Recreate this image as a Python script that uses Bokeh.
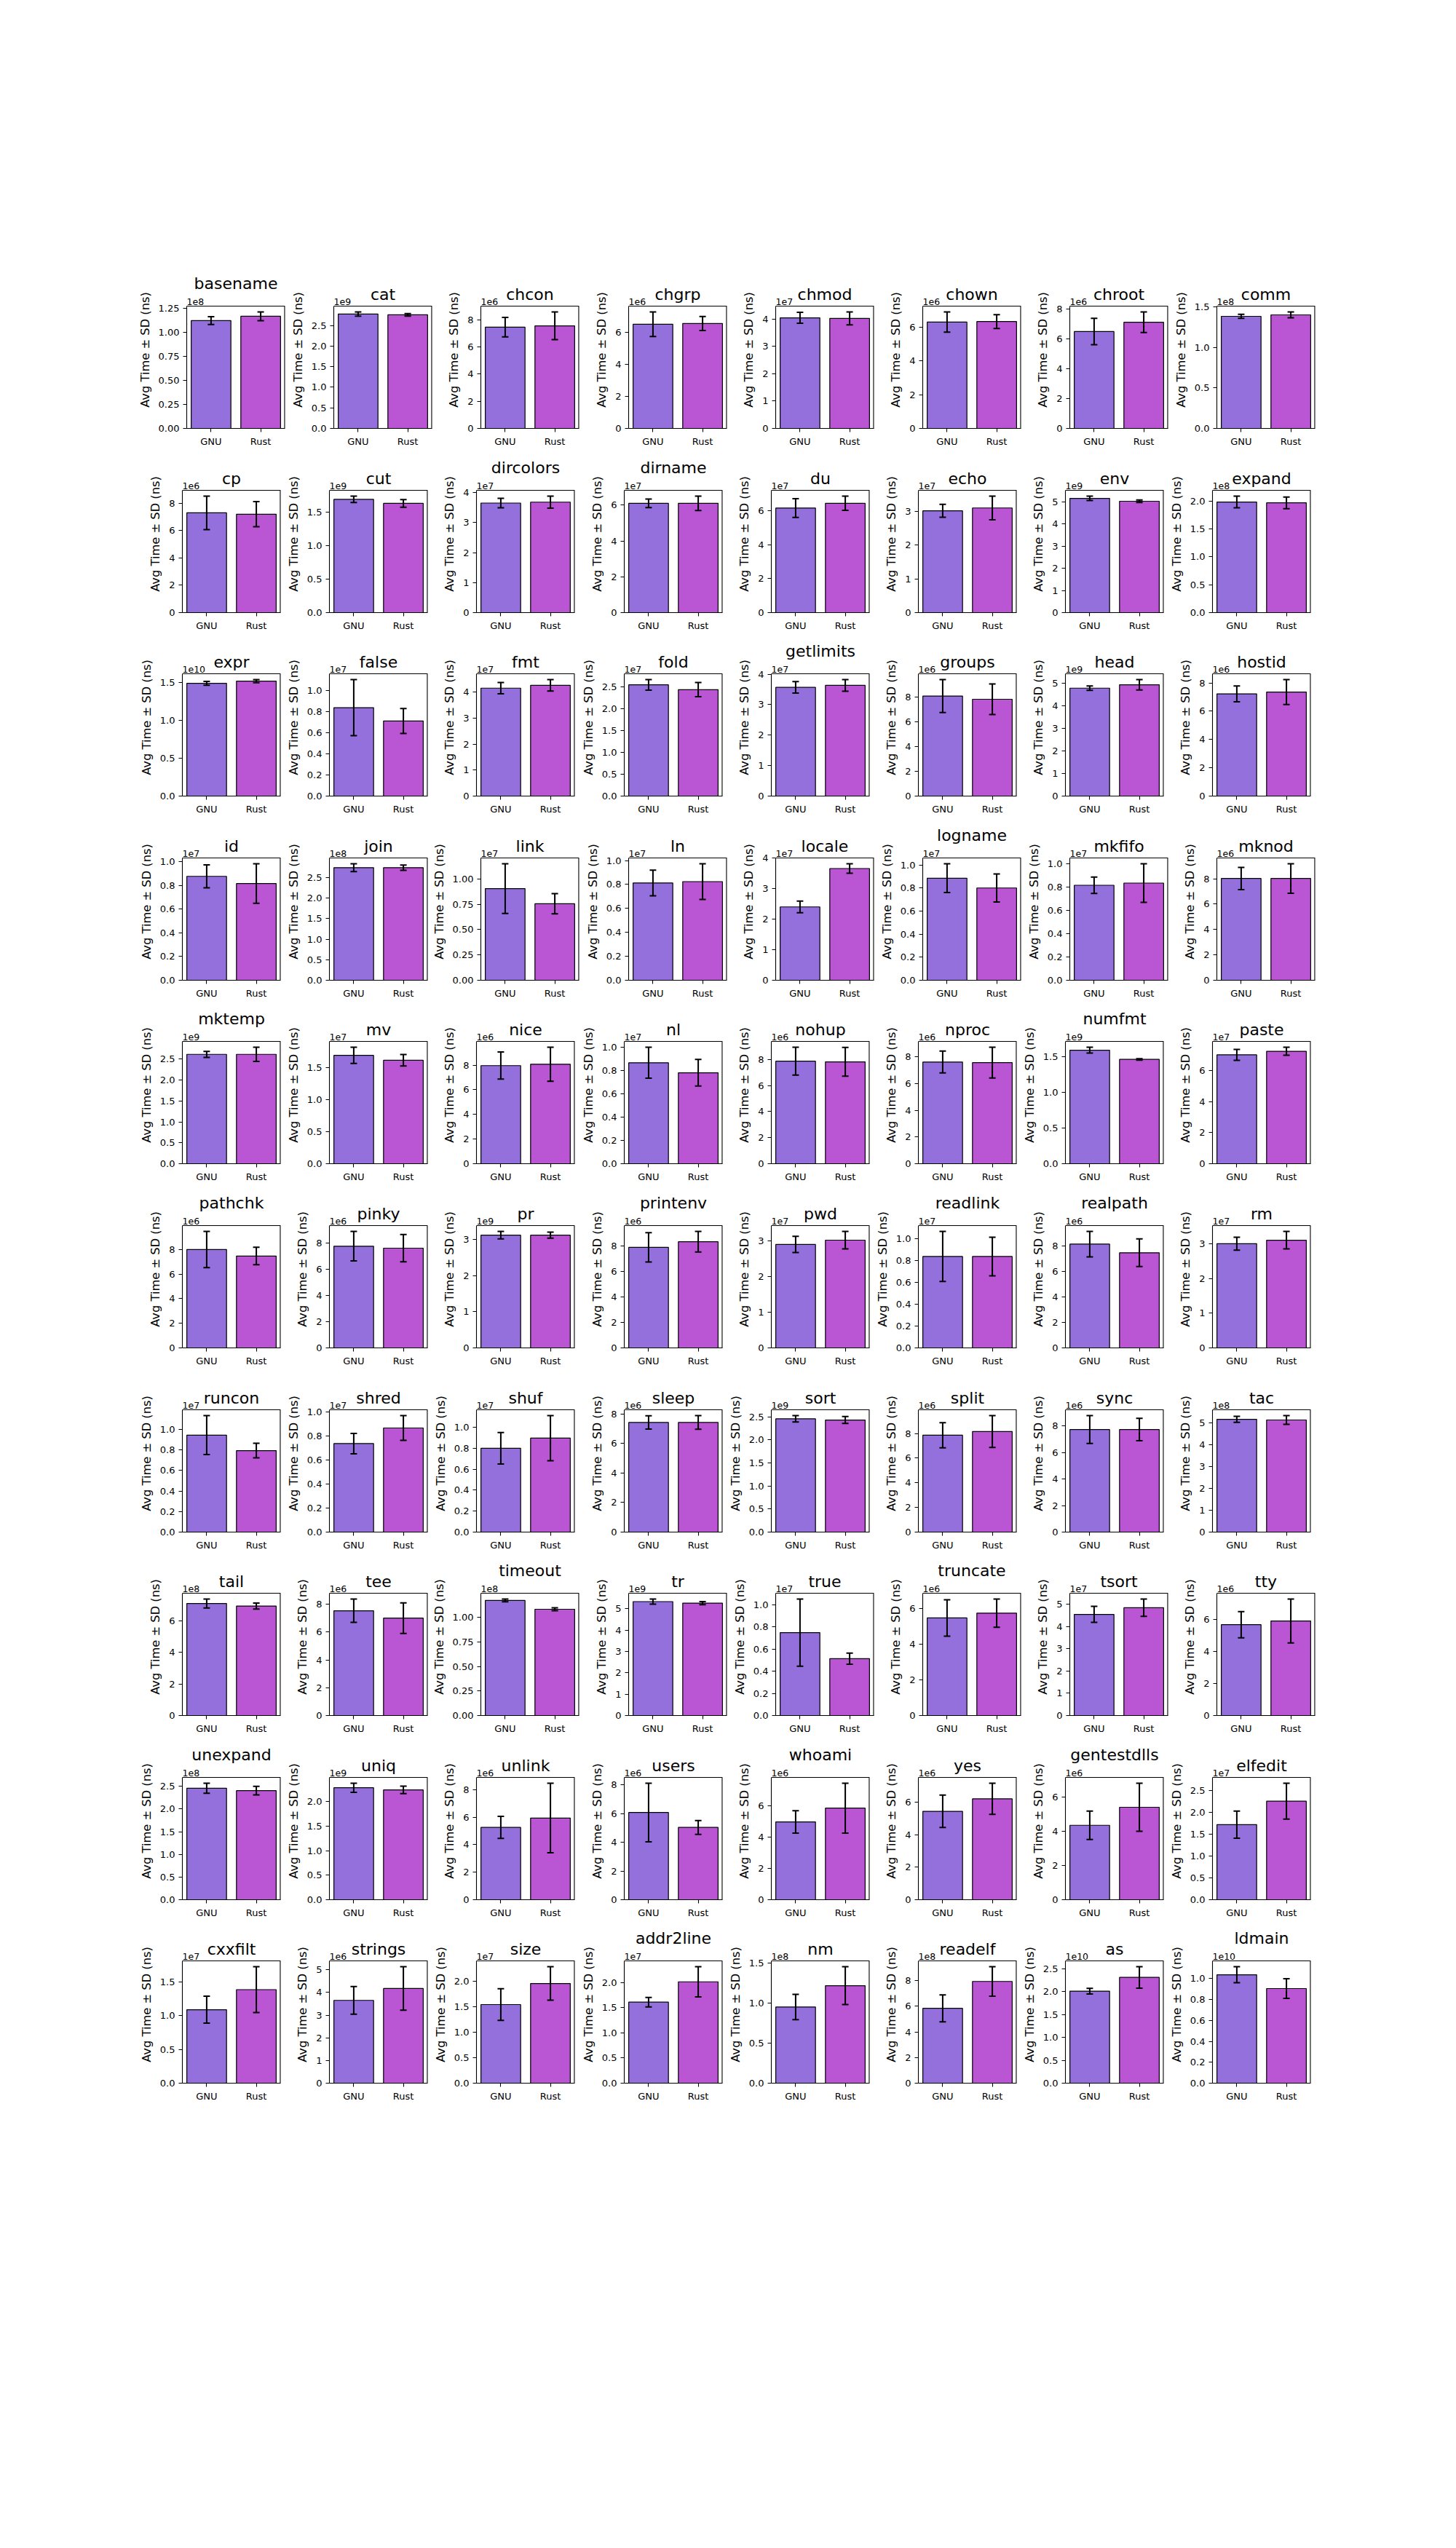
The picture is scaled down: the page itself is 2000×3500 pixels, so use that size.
import math
from bokeh.plotting import figure
from bokeh.models import (Range1d, FixedTicker, PrintfTickFormatter, Label, Whisker,
                          TeeHead, ColumnDataSource, Spacer)
from bokeh.layouts import row, column
from bokeh.embed import file_html
from bokeh.resources import INLINE

# ---------------- data (ns) ----------------
tools = ["basename", "cat", "chcon", "chgrp", "chmod", "chown", "chroot", "comm",
         "cp", "cut", "dircolors", "dirname", "du", "echo", "env", "expand",
         "expr", "false", "fmt", "fold", "getlimits", "groups", "head", "hostid",
         "id", "join", "link", "ln", "locale", "logname", "mkfifo", "mknod",
         "mktemp", "mv", "nice", "nl", "nohup", "nproc", "numfmt", "paste",
         "pathchk", "pinky", "pr", "printenv", "pwd", "readlink", "realpath", "rm",
         "runcon", "shred", "shuf", "sleep", "sort", "split", "sync", "tac",
         "tail", "tee", "timeout", "tr", "true", "truncate", "tsort", "tty",
         "unexpand", "uniq", "unlink", "users", "whoami", "yes", "gentestdlls", "elfedit",
         "cxxfilt", "strings", "size", "addr2line", "nm", "readelf", "as", "ldmain"]

categories = ["GNU", "Rust"]

gnu_mean = [1.12e8, 2.78e9, 7.45e6, 6.52e6, 4.05e7, 6.30e6, 6.48e6, 1.383e8,
            7.29e6, 1.69e9, 3.65e7, 6.10e7, 6.16e7, 3.015e7, 5.15e9, 1.98e8,
            1.487e10, 8.35e6, 4.16e7, 2.544e7, 3.57e7, 8.10e6, 4.785e9, 7.23e6,
            8.77e6, 2.743e8, 9.05e6, 8.13e6, 2.406e7, 8.86e6, 8.18e6, 8.02e6,
            2.617e9, 1.69e7, 7.96e6, 8.67e6, 7.87e6, 7.62e6, 1.588e9, 7.02e7,
            8.00e6, 7.78e6, 3.12e9, 7.90e6, 2.90e7, 8.35e6, 8.17e6, 3.00e7,
            9.45e6, 7.37e6, 7.99e6, 7.42e6, 2.458e9, 7.86e6, 7.73e6, 5.17e8,
            7.09e8, 7.53e6, 1.174e8, 5.33e9, 7.49e6, 5.47e6, 4.54e7, 5.68e6,
            2.457e8, 2.28e9, 5.26e6, 6.08e6, 4.97e6, 5.45e6, 4.34e6, 1.716e7,
            1.09e7, 3.65e6, 1.547e7, 1.61e7, 9.52e7, 5.84e8, 2.01e10, 1.037e10]

gnu_sd = [0.040e8, 0.050e9, 0.72e6, 0.77e6, 0.20e7, 0.60e6, 0.88e6, 0.025e8,
          1.22e6, 0.048e9, 0.16e7, 0.24e7, 0.55e7, 0.19e7, 0.10e9, 0.105e8,
          0.026e10, 2.65e6, 0.22e7, 0.12e7, 0.19e7, 1.33e6, 0.10e9, 0.565e6,
          0.97e6, 0.095e8, 2.45e6, 1.07e6, 0.19e7, 1.25e6, 0.71e6, 0.88e6,
          0.072e9, 0.127e7, 1.10e6, 1.33e6, 1.07e6, 0.82e6, 0.041e9, 0.35e7,
          1.47e6, 1.13e6, 0.104e9, 1.15e6, 0.225e7, 2.29e6, 1.00e6, 0.187e7,
          1.90e6, 0.85e6, 1.50e6, 0.45e6, 0.070e9, 1.02e6, 1.05e6, 0.14e8,
          0.28e8, 0.84e6, 0.014e8, 0.12e9, 3.03e6, 1.02e6, 0.36e7, 0.82e6,
          0.11e8, 0.092e9, 0.80e6, 2.04e6, 0.71e6, 1.00e6, 0.83e6, 0.31e7,
          0.20e7, 0.61e6, 0.31e7, 0.094e7, 1.58e7, 1.05e8, 0.062e10, 0.077e10]

rust_mean = [1.165e8, 2.76e9, 7.55e6, 6.57e6, 4.03e7, 6.33e6, 7.10e6, 1.401e8,
             7.19e6, 1.63e9, 3.68e7, 6.10e7, 6.44e7, 3.10e7, 5.02e9, 1.965e8,
             1.516e10, 7.09e6, 4.27e7, 2.434e7, 3.634e7, 7.84e6, 4.935e9, 7.36e6,
             8.16e6, 2.743e8, 7.55e6, 8.24e6, 3.665e7, 8.01e6, 8.37e6, 8.02e6,
             2.617e9, 1.614e7, 8.07e6, 7.81e6, 7.82e6, 7.58e6, 1.459e9, 7.25e7,
             7.47e6, 7.63e6, 3.12e9, 8.34e6, 3.02e7, 8.35e6, 7.49e6, 3.10e7,
             7.94e6, 8.67e6, 8.96e6, 7.42e6, 2.432e9, 8.16e6, 7.73e6, 5.14e8,
             6.93e8, 7.00e6, 1.084e8, 5.26e9, 5.14e6, 5.74e6, 4.84e7, 5.91e6,
             2.404e8, 2.236e9, 5.94e6, 5.04e6, 5.85e6, 6.22e6, 5.39e6, 2.25e7,
             1.388e7, 4.175e6, 1.962e7, 2.014e7, 1.218e8, 7.94e8, 2.309e10, 0.905e10]

rust_sd = [0.045e8, 0.030e9, 1.02e6, 0.44e6, 0.235e7, 0.41e6, 0.69e6, 0.036e8,
           0.92e6, 0.057e9, 0.20e7, 0.40e7, 0.42e7, 0.35e7, 0.06e9, 0.105e8,
           0.020e10, 1.17e6, 0.22e7, 0.163e7, 0.19e7, 1.24e6, 0.23e9, 0.88e6,
           1.67e6, 0.066e8, 1.00e6, 1.49e6, 0.155e7, 1.22e6, 1.66e6, 1.16e6,
           0.17e9, 0.09e7, 1.38e6, 1.14e6, 1.10e6, 1.15e6, 0.010e9, 0.26e7,
           0.71e6, 1.05e6, 0.084e9, 0.81e6, 0.245e7, 1.76e6, 1.09e6, 0.252e7,
           0.71e6, 1.03e6, 2.15e6, 0.465e6, 0.075e9, 1.29e6, 0.85e6, 0.20e8,
           0.19e8, 1.10e6, 0.014e8, 0.075e9, 0.50e6, 0.79e6, 0.39e7, 1.37e6,
           0.093e8, 0.077e9, 2.53e6, 0.48e6, 1.59e6, 0.96e6, 1.40e6, 0.41e7,
           0.34e7, 0.96e6, 0.33e7, 0.30e7, 2.37e7, 1.15e8, 0.234e10, 0.094e10]

# titles that sit higher because they would overlap the axis offset text
raised_titles = {"basename", "dircolors", "dirname", "getlimits", "logname", "mktemp",
                 "numfmt", "pathchk", "printenv", "readlink", "realpath", "timeout",
                 "truncate", "unexpand", "whoami", "gentestdlls", "addr2line", "ldmain"}

GNU_COLOR = "#9370DB"
RUST_COLOR = "#BA55D3"
FONT = "DejaVu Sans"

NCOLS, NROWS = 8, 10
BOX_W, BOX_H = 135, 168          # visible axes box
HEAD = 48                        # room above the box (title / offset text)
LEFT_B = 64
COL_PITCH, ROW_PITCH = 202.2, 252.6
BOX_LEFT, BOX_TOP = 250, 420
TITLE_PX, OFFSET_PX = 22, 12.5
DESCENT = 0.236                  # DejaVu Sans descent (em)


def nice_ticks(vmax, nbins=6):
    base = [1, 2, 2.5, 5, 10]
    ext = [0.1 * s for s in base[:-1]] + base + [10 * base[1]]
    scale = 10 ** math.floor(math.log10(vmax / nbins))
    raw = vmax / nbins
    steps = [s * scale for s in ext]
    istep = next(i for i, s in enumerate(steps) if s >= raw)
    step, n = steps[istep], 2
    for st in reversed(steps[:istep + 1]):
        n = int(math.floor(vmax / st + 1e-9)) + 1
        step = st
        if n >= 2:
            break
    return step, n


def style_axis(ax):
    ax.axis_line_color = "black"
    ax.axis_line_width = 1.1
    ax.major_tick_line_color = "black"
    ax.major_tick_line_width = 1.1
    ax.major_tick_out = 5
    ax.major_tick_in = 0
    ax.minor_tick_line_color = None
    ax.major_label_text_font = FONT
    ax.major_label_text_font_size = "13px"
    ax.major_label_text_color = "black"
    ax.major_label_standoff = 5


def make_panel(i, right_b, bottom_b):
    name = tools[i]
    g, gs, r, rs = gnu_mean[i], gnu_sd[i], rust_mean[i], rust_sd[i]
    vmax = max(g + gs, r + rs) * 1.05
    step, n = nice_ticks(vmax)
    oom = int(math.floor(math.log10((n - 1) * step) + 1e-9))
    f = 10.0 ** oom
    ymax = vmax / f
    sstep = step / f
    ticks = [round(k * sstep, 10) for k in range(n)]
    d = 0
    while abs(round(sstep, d) - sstep) > 1e-9 and d < 4:
        d += 1
    ytop = ymax * (BOX_H + HEAD) / BOX_H

    p = figure(frame_width=BOX_W, frame_height=BOX_H + HEAD,
               x_range=Range1d(-0.49, 1.49), y_range=Range1d(0, ytop),
               min_border_left=LEFT_B, min_border_right=right_b,
               min_border_top=0, min_border_bottom=bottom_b,
               output_backend="svg", toolbar_location=None, tools="", title=None)
    p.grid.visible = False
    p.outline_line_color = None
    p.background_fill_color = "white"
    p.border_fill_color = "white"

    src = ColumnDataSource(dict(
        x=[0, 1],
        top=[g / f, r / f],
        color=[GNU_COLOR, RUST_COLOR],
        upper=[(g + gs) / f, (r + rs) / f],
        lower=[(g - gs) / f, (r - rs) / f],
    ))
    p.vbar(x="x", top="top", width=0.8, fill_color="color", line_color="black",
           line_width=1.2, source=src)
    p.add_layout(Whisker(source=src, base="x", upper="upper", lower="lower",
                         dimension="height", line_color="black", line_width=2,
                         upper_head=TeeHead(size=9, line_width=2, line_color="black"),
                         lower_head=TeeHead(size=9, line_width=2, line_color="black"),
                         level="overlay"))

    # top and right edges of the axes box
    p.segment(x0=[-0.49], y0=[ymax], x1=[1.49], y1=[ymax], line_color="black", line_width=1.1)
    p.segment(x0=[1.49], y0=[0], x1=[1.49], y1=[ymax], line_color="black", line_width=2.2)

    style_axis(p.xaxis[0])
    style_axis(p.yaxis[0])
    p.xaxis.ticker = FixedTicker(ticks=[0, 1])
    p.xaxis.major_label_overrides = {0: categories[0], 1: categories[1]}
    p.yaxis.bounds = (0, ymax)
    p.yaxis.ticker = FixedTicker(ticks=ticks)
    p.yaxis.formatter = PrintfTickFormatter(format="%." + str(d) + "f")
    p.yaxis.axis_label = "Avg Time \u00b1 SD (ns)"
    p.yaxis.axis_label_text_font = FONT
    p.yaxis.axis_label_text_font_size = "16.3px"
    p.yaxis.axis_label_text_font_style = "normal"
    p.yaxis.axis_label_text_color = "black"
    p.yaxis.axis_label_standoff = 6

    # offset text: baseline ~4px above the box
    p.add_layout(Label(x=-0.49, y=ymax, y_offset=4 - DESCENT * OFFSET_PX,
                       text="1e" + str(oom),
                       text_align="left", text_baseline="bottom",
                       text_font=FONT, text_font_size=str(OFFSET_PX) + "px",
                       text_color="black"))
    # title: baseline ~8px above the box, or ~23.5px when it would hit the offset text
    base = 23.5 if name in raised_titles else 8.3
    p.add_layout(Label(x=0.5, y=ymax, y_offset=base - DESCENT * TITLE_PX,
                       text=name, text_align="center", text_baseline="bottom",
                       text_font=FONT, text_font_size=str(TITLE_PX) + "px",
                       text_color="black"))
    return p


rows = []
for rr in range(NROWS):
    H = round((rr + 1) * ROW_PITCH) - round(rr * ROW_PITCH)
    bottom_b = H - BOX_H - HEAD
    figs = []
    for cc in range(NCOLS):
        W = round((cc + 1) * COL_PITCH) - round(cc * COL_PITCH)
        right_b = W - BOX_W - LEFT_B
        figs.append(make_panel(rr * NCOLS + cc, right_b, bottom_b))
    rows.append(row(Spacer(width=BOX_LEFT - LEFT_B, height=H), *figs))

layout = column(Spacer(width=10, height=BOX_TOP - HEAD), *rows)

open("out.html", "w").write(file_html(layout, INLINE, title="GNU vs Rust"))
